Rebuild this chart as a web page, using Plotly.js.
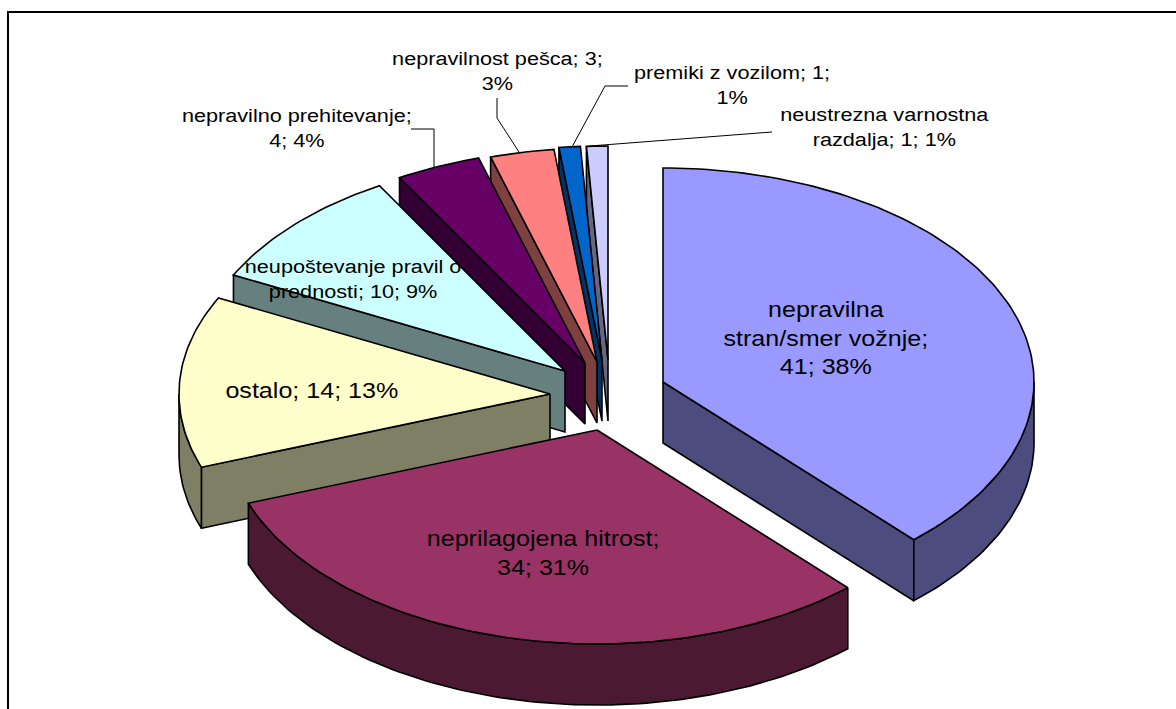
<!DOCTYPE html>
<html><head><meta charset="utf-8">
<script src="https://cdn.plot.ly/plotly-3.0.0.min.js"></script>
<style>html,body{margin:0;padding:0;background:#fff}#c{width:1176px;height:709px}</style></head>
<body><div id="c"></div>
<script>
var categories = ["nepravilna stran/smer vožnje","neprilagojena hitrost","ostalo","neupoštevanje pravil o prednosti","nepravilno prehitevanje","nepravilnost pešca","premiki z vozilom","neustrezna varnostna razdalja"];
var values = [41,34,14,10,4,3,1,1];
var percents = [38,31,13,9,4,3,1,1];
var topColors = ["#9999FF","#993366","#FFFFCC","#CCFFFF","#660066","#FF8080","#0066CC","#CCCCFF"];
var sideColors = ["#4C4C7F","#4C1933","#7F7F66","#667F7F","#330033","#7F4040","#003366","#66667F"];
var apexX = [663,597,550,565,585,597,602,608];
var apexY = [382,430,394,371,363,362,360,360];
var labelLines = [
 "nepravilna<br>stran/smer vožnje;<br>41; 38%",
 "neprilagojena hitrost;<br>34; 31%",
 "ostalo; 14; 13%",
 "neupoštevanje pravil o<br>prednosti; 10; 9%",
 "nepravilno prehitevanje;<br>4; 4%",
 "nepravilnost pešca; 3;<br>3%",
 "premiki z vozilom; 1;<br>1%",
 "neustrezna varnostna<br>razdalja; 1; 1%"];
var labelX = [826,543,312,353,297,497,732,884];
var labelY = [338,553,390,279,128,71,85,127];
var leaderX = [null,null,null,null,[411,434,434],[497,497,519],[628,605,572],[772,590]];
var leaderY = [null,null,null,null,[129,129,168],[98,118,152],[86,86,147],[132,146]];

var RX = 371, RY = 214, DEPTH = 61, STRETCH = 1.14;
var total = values.reduce(function(a,b){return a+b;},0);
var starts = [], ends = [], acc = 0;
values.forEach(function(v){ starts.push(acc/total*2*Math.PI); acc += v; ends.push(acc/total*2*Math.PI); });

// small correction for the projection in the front right quadrant
function warp(t){ return (t>Math.PI/2 && t<Math.PI) ? t+0.014*Math.sin(2*(t-Math.PI/2)) : t; }
function px(i,t){ return apexX[i] + RX*Math.sin(warp(t)); }
function py(i,t){ return apexY[i] - RY*Math.cos(warp(t)); }
function arc(i,a,b,dy){
  var xs=[], ys=[], n=Math.max(2,Math.ceil((b-a)/0.02));
  for(var k=0;k<=n;k++){ var t=a+(b-a)*k/n; xs.push(px(i,t)); ys.push(py(i,t)+dy); }
  return {x:xs,y:ys};
}
function poly(xs,ys,fill){
  return {type:"scatter",mode:"lines",x:xs.concat([xs[0]]),y:ys.concat([ys[0]]),fill:"toself",fillcolor:fill,
    line:{color:"#000",width:1.6},hoverinfo:"skip",showlegend:false};
}
var traces = [];
function addSlice(i){
  var a=starts[i], b=ends[i], H=Math.PI/2, T=3*Math.PI/2, P=Math.PI;
  if(a>P){ traces.push(poly([apexX[i],px(i,a),px(i,a),apexX[i]],[apexY[i],py(i,a),py(i,a)+DEPTH,apexY[i]+DEPTH],sideColors[i])); }
  if(b<P){ traces.push(poly([apexX[i],px(i,b),px(i,b),apexX[i]],[apexY[i],py(i,b),py(i,b)+DEPTH,apexY[i]+DEPTH],sideColors[i])); }
  var ra=Math.max(a,H), rb=Math.min(b,T);
  if(rb>ra){
    var top=arc(i,ra,rb,0), bot=arc(i,ra,rb,DEPTH);
    traces.push(poly(top.x.concat(bot.x.slice().reverse()),top.y.concat(bot.y.slice().reverse()),sideColors[i]));
  }
  var t=arc(i,a,b,0);
  traces.push(poly([apexX[i]].concat(t.x),[apexY[i]].concat(t.y),topColors[i]));
}
[7,6,5,4,3,2,0,1].forEach(addSlice);

leaderX.forEach(function(lx,i){
  if(!lx) return;
  traces.push({type:"scatter",mode:"lines",x:lx,y:leaderY[i],line:{color:"#000",width:1},hoverinfo:"skip",showlegend:false});
});

var annotations = labelLines.map(function(txt,i){
  return {x:labelX[i],y:labelY[i],xref:"x",yref:"y",text:txt,showarrow:false,align:"center",
    xanchor:"center",yanchor:"middle",font:{family:"Liberation Sans, Arial, sans-serif",size:i<3?22:19,color:"#000"}};
});

Plotly.newPlot("c",traces,{
  width:1176,height:709,margin:{l:0,r:0,t:0,b:0},paper_bgcolor:"#fff",plot_bgcolor:"#fff",showlegend:false,
  xaxis:{range:[0,1176],visible:false,fixedrange:true},
  yaxis:{range:[709,0],visible:false,fixedrange:true},
  annotations:annotations,
  shapes:[{type:"rect",xref:"x",yref:"y",x0:8,y0:12,x1:1200,y1:730,line:{color:"#000",width:2},fillcolor:"rgba(0,0,0,0)",layer:"below"}]
},{staticPlot:true,displayModeBar:false}).then(function(){
  // the reference lettering is horizontally stretched
  document.querySelectorAll("#c .annotation-text").forEach(function(el){
    var b=el.getBBox(), cx=b.x+b.width/2;
    el.setAttribute("transform","translate("+cx+",0) scale("+STRETCH+",1) translate("+(-cx)+",0)");
  });
});
</script></body></html>
